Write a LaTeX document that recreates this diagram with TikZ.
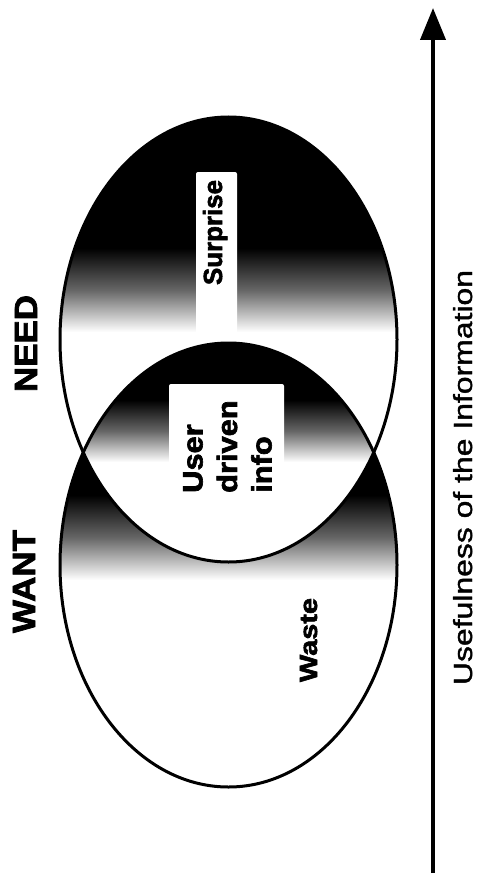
\documentclass[tikz,border=0pt]{standalone}
\usepackage{fontspec}
\setmainfont{Liberation Sans}
\newfontfamily\heavyfont[FakeBold=2.2]{Liberation Sans Bold}
\newfontfamily\medfont[FakeBold=1.2]{Liberation Sans}
\usetikzlibrary{arrows.meta}
\begin{document}
\begin{tikzpicture}[x=1pt,y=-1pt,
  outline/.style={draw=black,line width=3pt},
  fade/.style={top color=black,bottom color=white,middle color=black!60},
  label/.style={rotate=90,anchor=base,inner sep=0pt,text=black},
  whitebox/.style={fill=white,rounded corners=2pt}]
\useasboundingbox (0,0) rectangle (480,880);
\fill[white] (0,0) rectangle (480,880);
\coordinate (c1) at (228.5,339.5);
\coordinate (c2) at (228.5,565);
% region: NEED ellipse
\begin{scope}
  \clip (c1) ellipse [x radius=168.5pt, y radius=222.5pt];
  \fill[black] (50,100) rectangle (410,248);
  \shade[fade] (50,248) rectangle (410,332);
\end{scope}
% region: WANT ellipse and overlap
\begin{scope}
  \clip (c2) ellipse [x radius=168.5pt, y radius=222pt];
  \fill[white] (50,330) rectangle (410,800);
  \fill[black] (50,330) rectangle (410,495);
  \shade[fade] (50,495) rectangle (410,580);
  \clip (c1) ellipse [x radius=168.5pt, y radius=222.5pt];
  \fill[white] (50,330) rectangle (410,570);
  \fill[black] (50,330) rectangle (410,400);
  \shade[fade] (50,400) rectangle (410,462);
\end{scope}
% white label boxes
\fill[whitebox] (196,172) rectangle (237,336);
\fill[whitebox] (169,384) rectangle (284,505);
% outlines
\draw[outline] (c1) ellipse [x radius=168.5pt, y radius=222.5pt];
\draw[outline] (c2) ellipse [x radius=168.5pt, y radius=222pt];
% labels
\node[label] (need) at (37,343.5) {\resizebox{97pt}{22pt}{\heavyfont NEED}};
\node[label] (want) at (35,581.5) {\resizebox{103pt}{22pt}{\heavyfont WANT}};
\node[label] (surprise) at (222,232.5) {\resizebox{105pt}{19pt}{\heavyfont Surprise}};
\node[label] (waste) at (317,640) {\resizebox{84pt}{17pt}{\heavyfont Waste}};
\node[rotate=90,anchor=west,inner sep=0pt,align=left,
      font=\heavyfont\fontsize{28}{34.5}\selectfont] (user) at (227.5,493)
  {\scalebox{1.1}[1]{User}\\\scalebox{1.1}[1]{driven}\\\scalebox{1.1}[1]{info}};
% axis
\coordinate (a0) at (433,873);
\coordinate (a1) at (433,8);
\draw[line width=4pt,-{Triangle[length=32pt,width=25pt]}] (a0) -- (a1);
\node[label] (axis) at (472,477.5) {\resizebox{415pt}{19pt}{\medfont Usefulness of the Information}};
\end{tikzpicture}
\end{document}
